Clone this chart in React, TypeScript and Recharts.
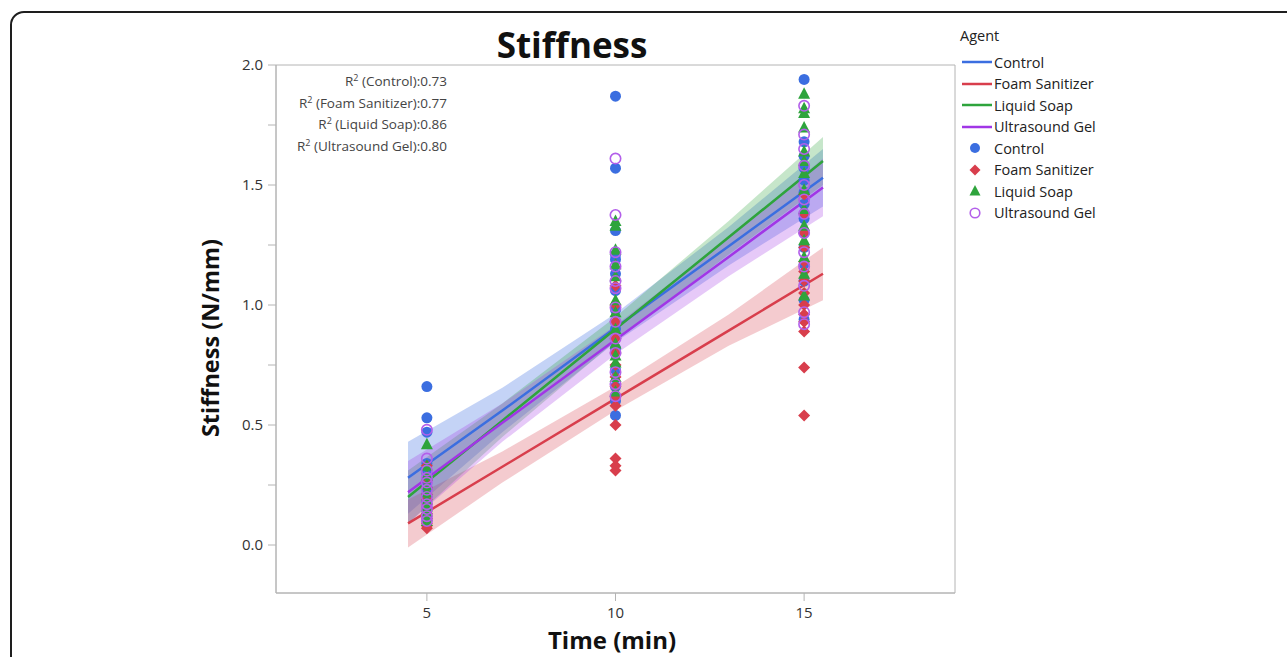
import React from 'react';
import { ComposedChart, Area, Line, Scatter, XAxis, YAxis, ReferenceArea } from 'recharts';

// Stiffness readings per agent, at 5, 10 and 15 minutes
const CONTROL_5 = [0.66, 0.53, 0.47, 0.34, 0.3, 0.27, 0.24, 0.21, 0.18, 0.16, 0.13, 0.11];
const CONTROL_10 = [1.87, 1.57, 1.31, 1.21, 1.19, 1.13, 1.06, 0.98, 0.9, 0.82, 0.73, 0.66, 0.6, 0.54];
const CONTROL_15 = [1.94, 1.68, 1.62, 1.57, 1.52, 1.47, 1.42, 1.36, 1.3, 1.24, 1.17, 1.1, 1.02, 0.94];

const FOAM_5 = [0.33, 0.27, 0.24, 0.21, 0.19, 0.17, 0.15, 0.13, 0.11, 0.09, 0.08, 0.07];
const FOAM_10 = [1.08, 1.0, 0.93, 0.86, 0.8, 0.75, 0.7, 0.66, 0.62, 0.58, 0.5, 0.36, 0.33, 0.31];
const FOAM_15 = [1.46, 1.38, 1.3, 1.24, 1.18, 1.14, 1.1, 1.05, 1.0, 0.96, 0.93, 0.89, 0.74, 0.54];

const SOAP_5 = [0.42, 0.33, 0.29, 0.25, 0.22, 0.19, 0.16, 0.14, 0.12, 0.1];
const SOAP_10 = [1.35, 1.33, 1.23, 1.17, 1.12, 1.02, 0.97, 0.9, 0.84, 0.79, 0.76, 0.7, 0.64];
const SOAP_15 = [1.88, 1.82, 1.8, 1.74, 1.64, 1.6, 1.55, 1.48, 1.4, 1.33, 1.27, 1.2, 1.13, 1.04];

const GEL_5 = [0.48, 0.36, 0.31, 0.28, 0.26, 0.23, 0.2, 0.17, 0.15, 0.12, 0.1];
const GEL_10 = [1.61, 1.375, 1.22, 1.16, 1.1, 1.07, 0.99, 0.93, 0.86, 0.8, 0.72, 0.67, 0.62];
const GEL_15 = [1.83, 1.71, 1.65, 1.58, 1.5, 1.44, 1.38, 1.3, 1.22, 1.16, 1.08, 0.97, 0.92];

// fitted lines + confidence bands, read at these times
const FIT_X = [4.5, 7, 10, 13, 15.5];
const CONTROL_FIT = [0.28, 0.56, 0.905, 1.245, 1.53];
const CONTROL_LO = [0.13, 0.47, 0.845, 1.165, 1.41];
const CONTROL_HI = [0.43, 0.655, 0.965, 1.325, 1.65];
const FOAM_FIT = [0.09, 0.326, 0.61, 0.893, 1.13];
const FOAM_LO = [-0.01, 0.26, 0.56, 0.83, 1.02];
const FOAM_HI = [0.19, 0.39, 0.66, 0.96, 1.24];
const SOAP_FIT = [0.2, 0.518, 0.9, 1.282, 1.6];
const SOAP_LO = [0.09, 0.45, 0.85, 1.21, 1.5];
const SOAP_HI = [0.31, 0.59, 0.95, 1.35, 1.7];
const GEL_FIT = [0.22, 0.509, 0.855, 1.2, 1.49];
const GEL_LO = [0.09, 0.43, 0.795, 1.12, 1.37];
const GEL_HI = [0.35, 0.59, 0.915, 1.28, 1.61];

const AGENTS = ['Control', 'Foam Sanitizer', 'Liquid Soap', 'Ultrasound Gel'];
const R2 = ['0.73', '0.77', '0.86', '0.80'];

const Y_TICKS = [0, 0.25, 0.5, 0.75, 1, 1.25, 1.5, 1.75, 2];
const X_TICKS = [5, 10, 15];

const BLUE = '#3b6ee0';
const RED = '#d83e4c';
const GREEN = '#2ea43c';
const PURPLE = '#a136e6';
const LAVENDER = '#b35fea';

const toPoints = (a5: number[], a10: number[], a15: number[]) => [
  ...a5.map((v) => ({ t: 5, v })),
  ...a10.map((v) => ({ t: 10, v })),
  ...a15.map((v) => ({ t: 15, v })),
];

const fitTable = FIT_X.map((t, i) => ({
  t,
  cFit: CONTROL_FIT[i], cBand: [CONTROL_LO[i], CONTROL_HI[i]],
  fFit: FOAM_FIT[i], fBand: [FOAM_LO[i], FOAM_HI[i]],
  sFit: SOAP_FIT[i], sBand: [SOAP_LO[i], SOAP_HI[i]],
  gFit: GEL_FIT[i], gBand: [GEL_LO[i], GEL_HI[i]],
}));

const dotShape = (p: any) => <circle cx={p.cx} cy={p.cy} r={5.5} fill={BLUE} />;
const diamondShape = (p: any) => (
  <polygon
    points={`${p.cx},${p.cy - 6} ${p.cx + 6},${p.cy} ${p.cx},${p.cy + 6} ${p.cx - 6},${p.cy}`}
    fill={RED}
  />
);
const triangleShape = (p: any) => (
  <polygon
    points={`${p.cx},${p.cy - 6.5} ${p.cx + 6},${p.cy + 5} ${p.cx - 6},${p.cy + 5}`}
    fill={GREEN}
  />
);
const ringShape = (p: any) => (
  <circle cx={p.cx} cy={p.cy} r={5.2} fill="none" stroke={LAVENDER} strokeWidth={1.6} />
);

const font = '"Open Sans", "Noto Sans", sans-serif';

const LegendRow = ({ y, icon, label }: { y: number; icon: React.ReactNode; label: string }) => (
  <div style={{ position: 'absolute', left: 960, top: y - 10, height: 20, display: 'flex', alignItems: 'center' }}>
    <svg width={34} height={20}>{icon}</svg>
    <span style={{ fontSize: 14.5, color: '#222' }}>{label}</span>
  </div>
);

export default function App() {
  const lineColors = [BLUE, RED, GREEN, PURPLE];
  const markerIcons = [
    <circle cx={15} cy={10} r={5} fill={BLUE} />,
    <polygon points="15,4.5 20.5,10 15,15.5 9.5,10" fill={RED} />,
    <polygon points="15,4 20.5,14.5 9.5,14.5" fill={GREEN} />,
    <circle cx={15} cy={10} r={4.8} fill="none" stroke={LAVENDER} strokeWidth={1.6} />,
  ];

  return (
    <div style={{ position: 'fixed', left: 0, top: 0, width: 1287, height: 657, overflow: 'hidden', background: '#fff', fontFamily: font }}>
      <div style={{ position: 'absolute', left: 10, top: 11, width: 1320, height: 720, border: '2px solid #1e1e1e', borderRadius: 14 }} />

      <div style={{ position: 'absolute', left: 0, top: 0 }}>
        <ComposedChart width={1287} height={657} data={fitTable} margin={{ top: 65, right: 332, left: 216, bottom: 34 }}>
          <XAxis
            dataKey="t"
            type="number"
            domain={[1, 19]}
            ticks={X_TICKS}
            allowDataOverflow
            height={30}
            tickSize={8}
            tickMargin={6}
            stroke="#b4b4b4"
            tick={{ fill: '#333', fontSize: 15, fontFamily: font }}
          />
          <YAxis
            type="number"
            domain={[-0.2, 2]}
            ticks={Y_TICKS}
            allowDataOverflow
            width={60}
            tickSize={8}
            tickMargin={5}
            stroke="#b4b4b4"
            tickFormatter={(v: number) => (v % 0.5 === 0 ? v.toFixed(1) : '')}
            tick={{ fill: '#333', fontSize: 15, fontFamily: font }}
          />
          <ReferenceArea x1={1} x2={19} y1={-0.2} y2={2} fill="none" stroke="#b4b4b4" strokeWidth={1} />

          <Area type="linear" dataKey="cBand" stroke="none" fill={BLUE} fillOpacity={0.3} isAnimationActive={false} />
          <Area type="linear" dataKey="fBand" stroke="none" fill={RED} fillOpacity={0.27} isAnimationActive={false} />
          <Area type="linear" dataKey="sBand" stroke="none" fill={GREEN} fillOpacity={0.27} isAnimationActive={false} />
          <Area type="linear" dataKey="gBand" stroke="none" fill={PURPLE} fillOpacity={0.27} isAnimationActive={false} />

          <Line type="linear" dataKey="cFit" stroke={BLUE} strokeWidth={2.5} dot={false} isAnimationActive={false} />
          <Line type="linear" dataKey="fFit" stroke={RED} strokeWidth={2.5} dot={false} isAnimationActive={false} />
          <Line type="linear" dataKey="sFit" stroke={GREEN} strokeWidth={2.5} dot={false} isAnimationActive={false} />
          <Line type="linear" dataKey="gFit" stroke={PURPLE} strokeWidth={2.5} dot={false} isAnimationActive={false} />

          <Scatter data={toPoints(CONTROL_5, CONTROL_10, CONTROL_15)} dataKey="v" shape={dotShape} isAnimationActive={false} />
          <Scatter data={toPoints(FOAM_5, FOAM_10, FOAM_15)} dataKey="v" shape={diamondShape} isAnimationActive={false} />
          <Scatter data={toPoints(SOAP_5, SOAP_10, SOAP_15)} dataKey="v" shape={triangleShape} isAnimationActive={false} />
          <Scatter data={toPoints(GEL_5, GEL_10, GEL_15)} dataKey="v" shape={ringShape} isAnimationActive={false} />
        </ComposedChart>
      </div>

      {/* title + axis titles */}
      <div style={{ position: 'absolute', left: 422, top: 24, width: 300, lineHeight: '42px', textAlign: 'center', fontSize: 35, fontWeight: 700, color: '#111' }}>
        Stiffness
      </div>
      <div style={{ position: 'absolute', left: 60, top: 323, width: 300, height: 30, lineHeight: '30px', textAlign: 'center', fontSize: 23.5, fontWeight: 700, color: '#111', transform: 'rotate(-90deg)' }}>
        Stiffness (N/mm)
      </div>
      <div style={{ position: 'absolute', left: 462, top: 625, width: 300, height: 30, lineHeight: '30px', textAlign: 'center', fontSize: 24, fontWeight: 700, color: '#111' }}>
        Time (min)
      </div>

      {/* R² notes */}
      <div style={{ position: 'absolute', left: 240, top: 71, width: 207, textAlign: 'right', fontSize: 13.5, color: '#444' }}>
        {AGENTS.map((a, i) => (
          <div key={a} style={{ height: 21.7, lineHeight: '21.7px', whiteSpace: 'nowrap' }}>
            R<span style={{ fontSize: 9, position: 'relative', top: -5 }}>2</span> ({a}):{R2[i]}
          </div>
        ))}
      </div>

      {/* legend */}
      <div style={{ position: 'absolute', left: 960, top: 26, fontSize: 14.5, color: '#222', lineHeight: '20px' }}>Agent</div>
      {AGENTS.map((a, i) => (
        <LegendRow
          key={'l' + a}
          y={62 + i * 21.5}
          label={a}
          icon={<line x1={2} x2={32} y1={10} y2={10} stroke={lineColors[i]} strokeWidth={2.5} />}
        />
      ))}
      {AGENTS.map((a, i) => (
        <LegendRow key={'m' + a} y={148 + i * 21.5} label={a} icon={markerIcons[i]} />
      ))}
    </div>
  );
}
